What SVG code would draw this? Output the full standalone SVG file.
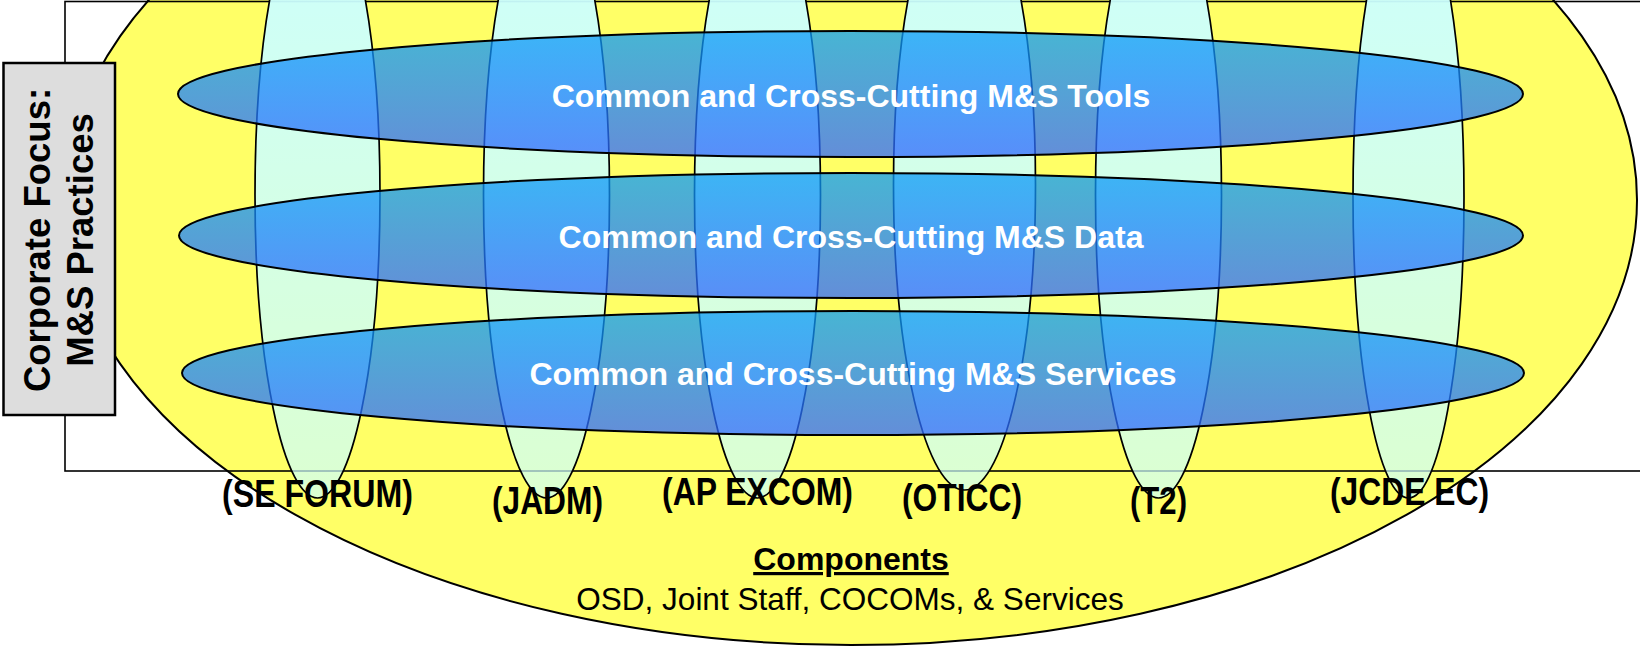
<svg xmlns="http://www.w3.org/2000/svg" width="1640" height="648" viewBox="0 0 1640 648">
  <defs>
    <linearGradient id="gCyan" x1="0" y1="0" x2="0" y2="1">
      <stop offset="0" stop-color="#ccffff" stop-opacity="1"/>
      <stop offset="1" stop-color="#ccffff" stop-opacity="0.7"/>
    </linearGradient>
    <linearGradient id="gBlue" x1="0" y1="0" x2="0" y2="1">
      <stop offset="0" stop-color="#0a9cf8"/>
      <stop offset="1" stop-color="#2f68ff"/>
    </linearGradient>
    <style>
      .frame { fill: none; stroke: #000; stroke-width: 1.6; }
      .yellow { fill: #ffff66; stroke: #000; stroke-width: 2; }
      .cyan { fill: url(#gCyan); stroke: #000; stroke-width: 1.7; }
      .blue { fill: url(#gBlue); fill-opacity: 0.75; stroke: #000; stroke-width: 2; }
      .box { fill: #dddddd; stroke: #000; stroke-width: 2.5; }
      .bt { font-family: "Liberation Sans", Arial, sans-serif; font-weight: bold; font-size: 32px; fill: #fff; text-anchor: middle; }
      .lbl { font-family: "Liberation Sans Narrow", "Liberation Sans", Arial, sans-serif; font-weight: bold; font-size: 39px; fill: #000; text-anchor: middle; }
      .side { font-family: "Liberation Sans", Arial, sans-serif; font-weight: bold; font-size: 36.5px; fill: #000; text-anchor: middle; }
      .comp { font-family: "Liberation Sans", Arial, sans-serif; font-weight: bold; font-size: 32px; fill: #000; text-anchor: middle; text-decoration: underline; }
      .sub { font-family: "Liberation Sans", Arial, sans-serif; font-size: 31.5px; fill: #000; text-anchor: middle; }
    </style>
  </defs>
  <rect x="0" y="0" width="1640" height="648" fill="#fff"/>

  <g id="components">
    <ellipse class="yellow" cx="851" cy="200" rx="786" ry="445"/>
  </g>

  <g id="frame">
    <rect class="frame" x="65" y="1.5" width="1620" height="469.5"/>
  </g>

  <g id="forum-se">
    <ellipse class="cyan" cx="317.5" cy="195" rx="62.5" ry="303"/>
  </g>
  <g id="forum-jadm">
    <ellipse class="cyan" cx="546.5" cy="195" rx="63" ry="303"/>
  </g>
  <g id="forum-apexcom">
    <ellipse class="cyan" cx="757.5" cy="195" rx="63" ry="303"/>
  </g>
  <g id="forum-oticc">
    <ellipse class="cyan" cx="964.5" cy="185" rx="71" ry="305"/>
  </g>
  <g id="forum-t2">
    <ellipse class="cyan" cx="1158.5" cy="195" rx="63" ry="303"/>
  </g>
  <g id="forum-jcdeec">
    <ellipse class="cyan" cx="1408.5" cy="197" rx="55.5" ry="301"/>
  </g>

  <g id="tools">
    <ellipse class="blue" cx="850.5" cy="94" rx="672.5" ry="63"/>
    <text class="bt" x="851" y="107">Common and Cross-Cutting M&amp;S Tools</text>
  </g>
  <g id="data">
    <ellipse class="blue" cx="851" cy="235.5" rx="672" ry="62.5"/>
    <text class="bt" x="851" y="248">Common and Cross-Cutting M&amp;S Data</text>
  </g>
  <g id="services">
    <ellipse class="blue" cx="853" cy="373" rx="671" ry="62"/>
    <text class="bt" x="853" y="385">Common and Cross-Cutting M&amp;S Services</text>
  </g>

  <g id="corporate-focus">
    <rect class="box" x="3.5" y="63" width="111.5" height="352"/>
    <text class="side" transform="translate(50,240) rotate(-90)">Corporate Focus:</text>
    <text class="side" transform="translate(93,240) rotate(-90)">M&amp;S Practices</text>
  </g>

  <g id="labels">
    <text class="lbl" x="317.5" y="507" textLength="191" lengthAdjust="spacingAndGlyphs">(SE FORUM)</text>
    <text class="lbl" x="547.5" y="514" textLength="111" lengthAdjust="spacingAndGlyphs">(JADM)</text>
    <text class="lbl" x="757.5" y="505" textLength="191" lengthAdjust="spacingAndGlyphs">(AP EXCOM)</text>
    <text class="lbl" x="962" y="511" textLength="120" lengthAdjust="spacingAndGlyphs">(OTICC)</text>
    <text class="lbl" x="1158.5" y="514" textLength="57" lengthAdjust="spacingAndGlyphs">(T2)</text>
    <text class="lbl" x="1409.5" y="505" textLength="159" lengthAdjust="spacingAndGlyphs">(JCDE EC)</text>
  </g>

  <g id="components-label">
    <text class="comp" x="851" y="570">Components</text>
    <text class="sub" x="850" y="610">OSD, Joint Staff, COCOMs, &amp; Services</text>
  </g>
</svg>
